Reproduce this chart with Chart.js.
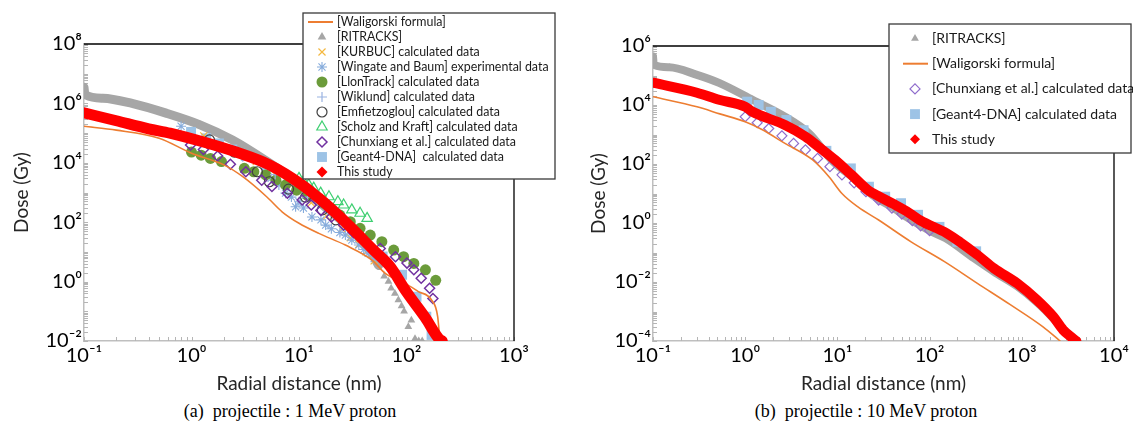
<!DOCTYPE html>
<html>
<head>
<meta charset="utf-8">
<script src="https://cdn.jsdelivr.net/npm/chart.js@4.4.1/dist/chart.umd.min.js"></script>
<style>
  html, body { margin: 0; padding: 0; background: #fff; }
  body { width: 1133px; height: 437px; position: relative; overflow: hidden; }
  canvas { position: absolute; top: 0; }
  .cap { position: absolute; top: 401px; font-family: "Liberation Serif", "Times New Roman", serif;
         font-size: 18px; color: #000; white-space: nowrap; transform: translateX(-50%); }
</style>
</head>
<body>
<canvas id="chartA" width="560" height="400" style="left:0"></canvas>
<canvas id="chartB" width="573" height="400" style="left:560px"></canvas>
<div class="cap" style="left:290px">(a)&nbsp; projectile : 1 MeV proton</div>
<div class="cap" style="left:866px">(b)&nbsp; projectile : 10 MeV proton</div>
<script>
// ---- (a) 1 MeV proton : dose (Gy) vs radial distance (nm) ----
const walAx = [0.1, 0.2, 0.5, 1, 2, 3, 5, 7, 10, 15.3, 27, 47.8, 63.5, 97, 129, 171, 195, 204];
const walAy = [1.7e5, 1.26e5, 6.7e4, 2.1e4, 8.5e3, 3.4e3, 720, 220, 92, 42, 17, 5.3, 1.9, 0.87, 0.46, 0.24, 0.066, 0.011];

const ritAx = [0.1, 0.102, 0.15, 0.28, 0.58, 1.2, 2.4, 4.9, 8.1, 12, 18, 25, 35, 45, 55, 62, 68, 72, 78, 84, 90, 95, 104, 111, 120, 130, 140];
const ritAy = [3.5e6, 2e6, 1.5e6, 1e6, 4.7e5, 1.9e5, 5.9e4, 1.2e4, 3.4e3, 1e3, 300, 110, 35, 12, 3.5, 1.5, 1.0, 0.6, 0.4, 0.24, 0.15, 0.1, 0.03, 0.05, 0.012, 0.01, 0.01];
const ritABandEnd = 55;   // beyond this the RITRACKS points are scattered

const kurAx = [1.3, 2.5, 4, 6, 9, 13, 18, 25, 30, 36, 42, 50];
const kurAy = [8e4, 2.5e4, 1.1e4, 4e3, 1.4e3, 450, 160, 60, 30, 18, 10, 5];

const winAx = [0.8, 5.5, 6.5, 7.5, 8.5, 9.3, 10, 11, 13.2, 16, 17.7, 20, 24, 27, 31, 36, 40, 44, 50];
const winAy = [1.7e5, 3e3, 1.8e3, 950, 700, 330, 490, 300, 150, 120, 80, 60, 45, 37, 25, 17, 12, 9, 6];

const llonAx = [1, 1.23, 1.5, 1.9, 3.1, 3.8, 4.9, 6.1, 7.5, 9.5, 12, 17, 24, 30, 37, 46, 59, 76, 94, 117, 150, 187];
const llonAy = [2.3e4, 1.8e4, 1.4e4, 1.1e4, 6.5e3, 5e3, 3.9e3, 2.6e3, 1.8e3, 1.2e3, 800, 436, 174, 104, 62, 37, 22, 11.5, 6.9, 4.1, 2.5, 1.1];

const wikAx = [3, 6, 12, 25, 45];
const wikAy = [1.6e4, 4e3, 700, 110, 14];

const emfAx = [1.47, 2.5, 4.1, 5.3, 8, 11.5, 16.5, 22];
const emfAy = [5.9e4, 2.3e4, 5e3, 2.3e3, 1.3e3, 700, 260, 120];

const schAx = [10, 11, 12.3, 13.7, 15.9, 19, 23, 26, 31, 37, 43];
const schAy = [3e3, 2.3e3, 1.8e3, 1.4e3, 950, 720, 490, 380, 260, 200, 135];

const chuAx = [0.98, 1.29, 1.75, 2.3, 3.2, 4.5, 5.6, 7.8, 10.7, 13, 16, 20, 26, 32, 41, 57, 79, 101, 117, 137, 164, 176];
const chuAy = [4e4, 2.8e4, 1.7e4, 8.9e3, 5e3, 2.6e3, 1.6e3, 940, 560, 380, 250, 150, 80, 45, 22, 13, 6.9, 4.2, 2.5, 1.3, 0.6, 0.27];

const g4Ax = [0.99, 1.37, 1.8, 2.4, 3.2, 5, 8, 12, 20, 35, 60, 91, 124, 153, 171];
const g4Ay = [1.1e5, 6.7e4, 4.5e4, 2.8e4, 1.7e4, 7e3, 2.3e3, 900, 250, 40, 7, 1.7, 0.31, 0.066, 0.016];

const thisAx = [0.1, 0.2, 0.4, 0.63, 1.27, 2.6, 5.3, 10.7, 15.3, 20, 30, 50, 70, 100, 150, 200, 215];
const thisAy = [4.8e5, 2.6e5, 1.4e5, 1e5, 5.1e4, 2.3e4, 8.5e3, 1.8e3, 650, 280, 70, 11, 3.3, 0.45, 0.06, 0.012, 0.01];

// ---- (b) 10 MeV proton ----
const ritBx = [0.1, 0.102, 0.15, 0.3, 0.52, 1.2, 2.7, 4.9, 9, 15, 25, 40, 60, 100, 150, 300, 500, 900, 1500, 2200, 3000, 3800, 4000];
const ritBy = [4.4e5, 2.3e5, 1.9e5, 1.05e5, 5.6e4, 1.5e4, 4e3, 1.1e3, 120, 33, 8, 3.3, 1.4, 0.55, 0.3, 0.065, 0.022, 0.007, 0.0019, 5.8e-4, 2e-4, 1.1e-4, 1e-4];

const walBx = [0.1, 0.3, 0.53, 1, 1.5, 2.7, 5.4, 8.1, 11.2, 16.7, 28, 63, 145, 330, 750, 1700, 2600];
const walBy = [1.9e4, 8.7e3, 5e3, 2.7e3, 1.5e3, 500, 137, 37, 10, 3.5, 1.26, 0.23, 0.049, 0.009, 1.7e-3, 3e-4, 1e-4];

const chuBx = [1.0, 1.35, 1.8, 2.5, 3.35, 4.5, 6.1, 8.3, 11.2, 15.2, 20.4, 28, 39, 50, 65, 80, 100];
const chuBy = [4e3, 2.5e3, 1.6e3, 900, 500, 300, 155, 81, 43, 23, 11.5, 6, 3.2, 2.0, 1.2, 0.8, 0.55];

const g4Bx = [1.05, 1.4, 1.9, 2.8, 4.3, 7.6, 14, 22, 33, 49, 75, 128, 200, 320];
const g4By = [1.3e4, 1e4, 5.9e3, 3.1e3, 1.4e3, 280, 71, 17, 7.8, 4.7, 1.9, 0.74, 0.23, 0.11];

const thisBx = [0.1, 0.3, 0.52, 1, 1.2, 2.7, 4.5, 6.2, 9.4, 14.2, 21.5, 27.6, 40, 60, 80, 153, 330, 500, 890, 1450, 2200, 2800, 3500, 3900];
const thisBy = [5.7e4, 2.6e4, 1.5e4, 8.7e3, 5.9e3, 2.1e3, 850, 390, 138, 43, 13, 8.3, 4.5, 2.2, 1.2, 0.45, 0.083, 0.029, 0.009, 0.0025, 6.6e-4, 2.4e-4, 1.3e-4, 1e-4];

const FONT = 'Lato, "DejaVu Sans", sans-serif';

// 上标数字，用于 10^n 的刻度
const SUP = {'-': '\u207B', '0': '\u2070', '1': '\u00B9', '2': '\u00B2', '3': '\u00B3', '4': '\u2074',
             '5': '\u2075', '6': '\u2076', '7': '\u2077', '8': '\u2078', '9': '\u2079'};
function powLabel(v, step) {
    const e = Math.log10(v);
    const r = Math.round(e);
    if (Math.abs(e - r) > 1e-6) return '';
    if (step && r % step !== 0) return '';    // y 轴只标偶数次方
    return '10' + String(r).split('').map(c => SUP[c]).join('');
}
function isWhole(v) {   // 1..9 x 10^n only (skip the 1.5 style ticks)
    const m = v / Math.pow(10, Math.floor(Math.log10(v) + 1e-9));
    return Math.abs(m - Math.round(m)) < 1e-6;
}
function pts(xs, ys) {
    return xs.map((x, i) => ({x: x, y: ys[i]}));
}

// inner tick marks + black top/right frame, then the boxed legend
const frameLegend = {
    id: 'frameLegend',
    beforeDatasetsDraw(chart) {
        const {ctx, chartArea: a, scales} = chart;
        ctx.save();
        ctx.strokeStyle = '#b5b5b5';
        ctx.lineWidth = 1;
        scales.x.ticks.forEach(t => {
            if (!isWhole(t.value)) return;
            const px = Math.round(scales.x.getPixelForValue(t.value)) + 0.5;
            ctx.beginPath(); ctx.moveTo(px, a.bottom); ctx.lineTo(px, a.bottom - 4); ctx.stroke();
        });
        scales.y.ticks.forEach(t => {
            if (!isWhole(t.value)) return;
            const py = Math.round(scales.y.getPixelForValue(t.value)) + 0.5;
            ctx.beginPath(); ctx.moveTo(a.left, py); ctx.lineTo(a.left + 4, py); ctx.stroke();
        });
        ctx.strokeStyle = '#000';
        ctx.lineWidth = 1.3;
        ctx.beginPath();
        ctx.moveTo(a.left, a.top); ctx.lineTo(a.right, a.top); ctx.lineTo(a.right, a.bottom);
        ctx.stroke();
        ctx.restore();
    },
    afterDraw(chart, args, o) {
        const ctx = chart.ctx;
        ctx.save();
        ctx.fillStyle = '#fff';
        ctx.fillRect(o.x, o.y, o.w, o.h);
        ctx.strokeStyle = '#3a3a3a';
        ctx.lineWidth = 1.3;
        ctx.strokeRect(o.x, o.y, o.w, o.h);
        ctx.font = o.size + 'px ' + FONT;
        ctx.textBaseline = 'middle';
        chart.data.datasets.forEach((ds, i) => {
            const y = o.top + i * o.gap;
            if (ds.pointRadius === 0) {
                ctx.strokeStyle = ds.borderColor;
                ctx.lineWidth = 2;
                ctx.beginPath(); ctx.moveTo(o.lineFrom, y); ctx.lineTo(o.lineTo, y); ctx.stroke();
            } else {
                ctx.fillStyle = ds.pointBackgroundColor;
                ctx.strokeStyle = ds.pointBorderColor;
                ctx.lineWidth = ds.pointBorderWidth;
                Chart.helpers.drawPoint(ctx, {
                    pointStyle: ds.pointStyle, radius: ds.legendRadius || ds.pointRadius,
                    borderWidth: ds.pointBorderWidth, rotation: 0
                }, o.symX, y);
            }
            ctx.fillStyle = '#1a1a1a';
            ctx.fillText(ds.label, o.textX, y);
        });
        ctx.restore();
    }
};

function markers(label, xs, ys, style, fill, stroke, r, bw, order) {
    return {
        label: label, data: pts(xs, ys), showLine: false, order: order,
        pointStyle: style, pointRadius: r, legendRadius: r,
        pointBackgroundColor: fill, pointBorderColor: stroke, pointBorderWidth: bw
    };
}
function curve(label, xs, ys, color, width, order) {
    return {
        label: label, data: pts(xs, ys), showLine: true, order: order,
        borderColor: color, borderWidth: width, pointRadius: 0,
        cubicInterpolationMode: 'monotone', borderJoinStyle: 'round', borderCapStyle: 'round'
    };
}
function band(label, xs, ys, color, width, style, r, order, bandEnd) {
    const ds = curve(label, xs, ys, color, width, order);
    ds.pointStyle = style; ds.pointRadius = r; ds.legendRadius = r + 0.5;
    ds.pointBackgroundColor = color; ds.pointBorderColor = color; ds.pointBorderWidth = 0;
    ds.pointHoverRadius = r;
    if (bandEnd) {
        ds.segment = { borderColor: c => c.p0.parsed.x >= bandEnd ? 'rgba(0,0,0,0)' : undefined };
    }
    return ds;
}

function options(xMax, yMin, yMax, yWidth, yTitlePad, padRight, padTop, legend) {
    return {
        responsive: false,
        animation: false,
        layout: { padding: { left: 0, top: padTop, right: padRight, bottom: 0 } },
        scales: {
            x: {
                type: 'logarithmic', min: 0.1, max: xMax,
                grid: { display: false, drawTicks: false },
                border: { color: '#bfbfbf', width: 1.5 },
                ticks: { autoSkip: false, maxRotation: 0, padding: 3, color: '#000',
                         font: { family: FONT, size: 20 }, callback: v => powLabel(v, 1) },
                title: { display: true, text: 'Radial distance (nm)', color: '#262626',
                         font: { family: FONT, size: 19 }, padding: { top: 0, bottom: 5 } },
                afterFit: s => { s.height = 59; }
            },
            y: {
                type: 'logarithmic', min: yMin, max: yMax,
                grid: { display: false, drawTicks: false },
                border: { color: '#bfbfbf', width: 1.5 },
                ticks: { autoSkip: false, padding: 2, color: '#000',
                         font: { family: FONT, size: 20 }, callback: v => powLabel(v, 2) },
                title: { display: true, text: 'Dose (Gy)', color: '#262626',
                         font: { family: FONT, size: 19 }, padding: { top: yTitlePad, bottom: 0 } },
                afterFit: s => { s.width = yWidth; }
            }
        },
        plugins: {
            legend: { display: false },
            tooltip: { enabled: false },
            frameLegend: legend
        }
    };
}

// 图 (a)
new Chart(document.getElementById('chartA'), {
    type: 'scatter',
    data: {
        datasets: [
            curve('[Waligorski formula]', walAx, walAy, '#ed7d31', 1.6, 1),
            band('[RITRACKS]', ritAx, ritAy, '#a6a6a6', 9, 'triangle', 4.5, 20, ritABandEnd),
            markers('[KURBUC] calculated data', kurAx, kurAy, 'crossRot', 'rgba(0,0,0,0)', '#f4b840', 5, 1.2, 9),
            markers('[Wingate and Baum] experimental data', winAx, winAy, 'star', 'rgba(0,0,0,0)', '#86acdc', 5, 1.1, 8),
            markers('[LlonTrack] calculated data', llonAx, llonAy, 'circle', '#6b9b3a', '#6b9b3a', 5.5, 0, 7),
            markers('[Wiklund] calculated data', wikAx, wikAy, 'cross', 'rgba(0,0,0,0)', '#9ab3e2', 5, 1.2, 6),
            markers('[Emfietzoglou] calculated data', emfAx, emfAy, 'circle', 'rgba(0,0,0,0)', '#404040', 5, 1.2, 5),
            markers('[Scholz and Kraft] calculated data', schAx, schAy, 'triangle', 'rgba(0,0,0,0)', '#3fcf72', 6, 1.2, 4),
            markers('[Chunxiang et al.] calculated data', chuAx, chuAy, 'rectRot', 'rgba(0,0,0,0)', '#7030a0', 5, 1.5, 3),
            markers('[Geant4-DNA]  calculated data', g4Ax, g4Ay, 'rect', '#9dc3e6', '#9dc3e6', 7, 0, 10),
            band('This study', thisAx, thisAy, '#ff0000', 11, 'rectRot', 5, 0)
        ]
    },
    options: options(1000, 0.01, 1e8, 84, 10, 46, 44, {
        x: 303, y: 13, w: 252, h: 166, top: 22, gap: 15, size: 12.4,
        symX: 322, textX: 337, lineFrom: 308, lineTo: 333
    }),
    plugins: [frameLegend]
});

// 图 (b)
new Chart(document.getElementById('chartB'), {
    type: 'scatter',
    data: {
        datasets: [
            band('[RITRACKS]', ritBx, ritBy, '#a6a6a6', 8, 'triangle', 4, 20),
            curve('[Waligorski formula]', walBx, walBy, '#ed7d31', 1.6, 1),
            markers('[Chunxiang et al.] calculated data', chuBx, chuBy, 'rectRot', 'rgba(0,0,0,0)', '#8f6ccc', 5, 1.2, 3),
            markers('[Geant4-DNA] calculated data', g4Bx, g4By, 'rect', '#9dc3e6', '#9dc3e6', 7, 0, 10),
            band('This study', thisBx, thisBy, '#ff0000', 10, 'rectRot', 4.5, 0)
        ]
    },
    options: options(10000, 1e-4, 1e6, 93, 27, 19, 46, {
        x: 329, y: 24, w: 242, h: 129, top: 38.5, gap: 25.2, size: 14,
        symX: 355, textX: 372, lineFrom: 343, lineTo: 368
    }),
    plugins: [frameLegend]
});
</script>
</body>
</html>
